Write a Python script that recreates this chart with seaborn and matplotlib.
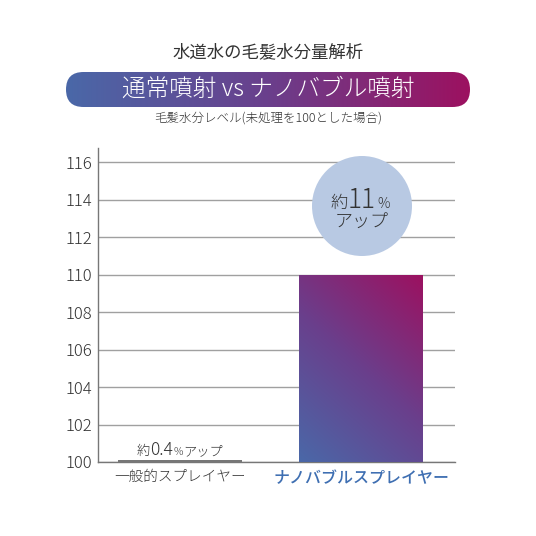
import numpy as np
import pandas as pd
import matplotlib
matplotlib.use("Agg")
import matplotlib.pyplot as plt
import seaborn as sns
from matplotlib.colors import LinearSegmentedColormap
from matplotlib.patches import FancyBboxPatch, Circle

# data
categories = ["一般的スプレイヤー", "ナノバブルスプレイヤー"]
values = [100.1, 110.0]
yticks = [100, 102, 104, 106, 108, 110, 112, 114, 116]

sns.set_theme(style="white")
plt.rcParams['font.family'] = ['Noto Sans CJK JP', 'DejaVu Sans']
plt.rcParams['font.weight'] = 'light'

blue = "#4a68a8"
magenta = "#9c1160"
grad = LinearSegmentedColormap.from_list("nb", [blue, "#6a3f8c", magenta])
text_col = "#333333"

W = 536
fig = plt.figure(figsize=(5.36, 5.36), dpi=100)
ax = fig.add_axes([98/W, 1 - 462/W, 357/W, 314/W])

df = pd.DataFrame({"cat": categories, "val": values})
sns.barplot(data=df, x="cat", y="val", ax=ax, width=0.68,
            color="#777777", edgecolor="none", zorder=3)
# seaborn bars start at 0, clip the view to the 100 baseline
ax.set_ylim(100, 116.75)
ax.set_xlim(-0.453, 1.519)

# gradient fill on the nano bubble bar
patch = ax.patches[1]
px, py = patch.get_x(), 100
pw, ph = patch.get_width(), patch.get_height() - 100
gx, gy = np.meshgrid(np.linspace(0, 1, 200), np.linspace(0, 1, 200))
g = (gx * 0.45 + gy * 0.75) / 1.2
im = ax.imshow(g, cmap=grad, origin="lower", aspect="auto",
               extent=[px, px + pw, py, py + ph], zorder=4)
im.set_clip_path(patch)
patch.set_facecolor("none")

ax.set_yticks(yticks)
ax.yaxis.grid(True, color="#a0a0a0", linewidth=1.0, zorder=0)
ax.xaxis.grid(False)
ax.tick_params(axis="y", labelsize=12, colors=text_col, length=0, pad=4)
ax.tick_params(axis="x", length=0, pad=6)
ax.set_xlabel("")
ax.set_ylabel("")
xl = ax.get_xticklabels()
xl[0].set_color(text_col)
xl[0].set_fontsize(10.5)
xl[1].set_color("#3f6fb2")
xl[1].set_fontsize(11.5)
xl[1].set_fontweight("medium")
for s in ["top", "right"]:
    ax.spines[s].set_visible(False)
for s in ["left", "bottom"]:
    ax.spines[s].set_color("#777777")
    ax.spines[s].set_linewidth(1.0)

renderer = fig.canvas.get_renderer()


def chain(xc, y, parts):
    # draw text pieces one after another on a common baseline, centred on xc
    texts = []
    x = 0
    for s, size, gap in parts:
        t = fig.text(x / W, 1 - y / W, s, ha="left", va="baseline",
                     fontsize=size, color=text_col, zorder=7)
        bb = t.get_window_extent(renderer)
        texts.append(t)
        x += bb.width + gap
    shift = xc - x / 2
    for t in texts:
        px0, py0 = t.get_position()
        t.set_position((px0 + shift / W, py0))


# small bar note
chain(180, 455, [("約", 9.5, 0), ("0.4", 12.5, 0.5), ("%", 7.5, 0.5), ("アップ", 9.5, 0)])

# circle badge
circ = Circle((362/W, 1 - 206/W), 50/W, transform=fig.transFigure,
              facecolor="#b8c9e3", edgecolor="none", zorder=6)
fig.patches.append(circ)
chain(360, 208, [("約", 12.5, 0), ("11", 19, 1), ("%", 10, 0)])
fig.text(362/W, 1 - 222/W, "アップ", ha="center", va="center",
         fontsize=13, color=text_col, zorder=7)

# titles
fig.text(268/W, 1 - 52/W, "水道水の毛髪水分量解析", ha="center", va="center",
         fontsize=12.5, color=text_col, fontweight="regular")
bx0, bx1, by0, by1 = 66/W, 470/W, 1 - 107/W, 1 - 72/W
bg = fig.add_axes([bx0, by0, bx1 - bx0, by1 - by0])
bg.set_axis_off()
bg.set_xlim(0, 1)
bg.set_ylim(0, 1)
bimg = bg.imshow(np.linspace(0, 1, 256)[None, :], cmap=grad, aspect="auto",
                 extent=[0, 1, 0, 1])
r = (by1 - by0) / 2
box = FancyBboxPatch((bx0, by0), bx1 - bx0, by1 - by0,
                     boxstyle=f"round,pad=0,rounding_size={r*0.999}",
                     transform=fig.transFigure, facecolor="none", edgecolor="none")
fig.patches.append(box)
bimg.set_clip_path(box)
bg.text(0.5, 0.5, "通常噴射 vs ナノバブル噴射", ha="center", va="center",
        fontsize=17, color="white", transform=bg.transAxes)
fig.text(268/W, 1 - 118/W, "毛髪水分レベル(未処理を100とした場合)", ha="center",
         va="center", fontsize=9, color=text_col)

fig.savefig("out.png", dpi=100, facecolor="white")
